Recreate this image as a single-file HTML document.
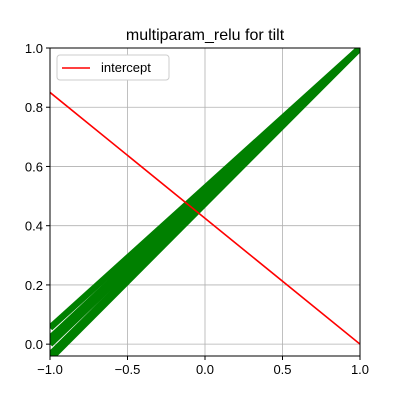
<!DOCTYPE html>
<html><head><meta charset="utf-8"><style>
body{margin:0;background:#fff}
svg text{font-family:"Liberation Sans","DejaVu Sans",sans-serif}
</style></head><body>
<svg id="chart" width="400" height="400">
<rect width="400" height="400" fill="#fff"/>
<text x="205" y="40" font-size="16" text-anchor="middle">multiparam_relu for tilt</text>
<g id="grid"></g>
<g id="series"></g>
<g id="axes"></g>
<g>
<rect x="57" y="55" width="112" height="25" rx="3" fill="#fff" stroke="#ccc"/>
<line x1="62" y1="68" x2="90" y2="68" stroke="red" stroke-width="1.6"/>
<text x="101" y="72" font-size="13">intercept</text>
</g>
</svg>
<script>
const xTicks=[-1.0,-0.5,0.0,0.5,1.0];
const yTicks=[0.0,0.2,0.4,0.6,0.8,1.0];
const greenStart=[0.055,0.02,0.0,-0.036,-0.05];
const greenEnd=[1.0,1.0,1.0,1.0,1.0];
const redStart=0.85, redEnd=0.0;
const X0=50,X1=360,Y0=356,Y1=48,xmin=-1,xmax=1,ymin=-0.04,ymax=1.0;
const sx=v=>X0+(v-xmin)/(xmax-xmin)*(X1-X0);
const sy=v=>Y0-(v-ymin)/(ymax-ymin)*(Y0-Y1);
const NS='http://www.w3.org/2000/svg';
function mk(t,a,p){const e=document.createElementNS(NS,t);for(const k in a)e.setAttribute(k,a[k]);p.appendChild(e);return e;}
const grid=document.getElementById('grid'),axes=document.getElementById('axes'),ser=document.getElementById('series');
xTicks.forEach(v=>{const x=sx(v);
const g=mk('line',{x1:x,x2:x,y1:Y1,y2:Y0,stroke:'#b0b0b0','stroke-width':0.8},grid);


mk('line',{x1:x,x2:x,y1:Y0,y2:Y0+4,stroke:'#000'},axes);
const t=mk('text',{x:x,y:Y0+18,'font-size':13,'text-anchor':'middle'},axes);t.textContent=v.toFixed(1).replace('-','\u2212');

});
yTicks.forEach(v=>{const y=sy(v);
const g=mk('line',{x1:X0,x2:X1,y1:y,y2:y,stroke:'#b0b0b0','stroke-width':0.8},grid);


mk('line',{x1:X0-4,x2:X0,y1:y,y2:y,stroke:'#000'},axes);
const t=mk('text',{x:X0-7,y:y+5,'font-size':13,'text-anchor':'end'},axes);t.textContent=v.toFixed(1);

});
const fr=mk('rect',{x:X0,y:Y1,width:X1-X0,height:Y0-Y1,fill:'none',stroke:'#000','stroke-width':1},axes);


const cp=mk('clipPath',{id:'cp'},ser);mk('rect',{x:X0,y:Y1,width:X1-X0,height:Y0-Y1},cp);
const gg=mk('g',{'clip-path':'url(#cp)'},ser);
greenStart.forEach((s,i)=>{const l=mk('line',{x1:sx(-1),y1:sy(s),x2:sx(1),y2:sy(greenEnd[i]),stroke:'green','stroke-width':6.5},gg);

});
const r=mk('line',{x1:sx(-1),y1:sy(redStart),x2:sx(1),y2:sy(redEnd),stroke:'red','stroke-width':1.6},gg);


</script>
</body></html>
